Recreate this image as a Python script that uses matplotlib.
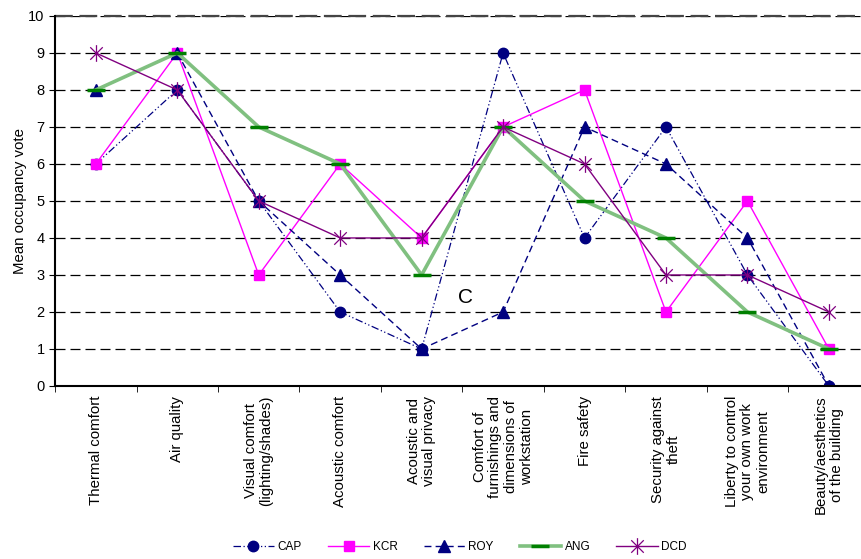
import matplotlib
matplotlib.use("Agg")
import matplotlib.pyplot as plt
from matplotlib.path import Path

plt.rcParams['font.family'] = ['Liberation Sans', 'DejaVu Sans']

categories = ["Thermal comfort", "Air quality", "Visual comfort\n(lighting/shades)",
              "Acoustic comfort", "Acoustic and\nvisual privacy",
              "Comfort of\nfurnishings and\ndimensions of\nworkstation",
              "Fire safety", "Security against\ntheft",
              "Liberty to control\nyour own work\nenvironment",
              "Beauty/aesthetics\nof the building"]
cap = [6, 8, 5, 2, 1, 9, 4, 7, 3, 0]
kcr = [6, 9, 3, 6, 4, 7, 8, 2, 5, 1]
roy = [8, 9, 5, 3, 1, 2, 7, 6, 4, 0]
ang = [8, 9, 7, 6, 3, 7, 5, 4, 2, 1]
dcd = [9, 8, 5, 4, 4, 7, 6, 3, 3, 2]

# Excel-style star marker: vertical bar plus an X
star = Path([(0, -1), (0, 1), (-0.75, -0.75), (0.75, 0.75), (-0.75, 0.75), (0.75, -0.75)],
            [Path.MOVETO, Path.LINETO, Path.MOVETO, Path.LINETO, Path.MOVETO, Path.LINETO])

fig = plt.figure(figsize=(8.61, 5.59), dpi=100)
ax = fig.add_axes([0.064, 0.3095, 0.946, 0.662])

x = range(len(categories))
navy = '#000080'
ax.plot(x, cap, color=navy, linestyle=(0, (6, 2, 1, 2, 1, 2)), linewidth=0.9,
        marker='o', markersize=7.5, markerfacecolor=navy, label='CAP')
ax.plot(x, kcr, color='#ff00ff', linewidth=1.0, marker='s', markersize=7.5,
        markerfacecolor='#ff00ff', markeredgecolor='#ff00ff', label='KCR')
ax.plot(x, roy, color=navy, linestyle=(0, (5, 3)), linewidth=1.0,
        marker='^', markersize=8, label='ROY')
ax.plot(x, ang, color='#80c080', linewidth=2.6, marker='_', markersize=13,
        markeredgewidth=2.5, markeredgecolor='#008000', label='ANG')
ax.plot(x, dcd, color='#800080', linewidth=1.0, marker=star, markersize=12,
        markeredgewidth=0.9, markeredgecolor='#800080', label='DCD')

ax.text(4.54, 2.4, "C", fontsize=15, ha='center', va='center')

ax.set_xlim(-0.5, len(categories) - 0.5)
ax.set_ylim(0, 10)
ax.set_yticks(range(0, 11))
ax.yaxis.grid(True, color='black', linestyle=(0, (8, 4)), linewidth=0.9)
ax.axhline(10, color='#444444', linestyle=(0, (8, 3)), linewidth=1.6, clip_on=False)
ax.set_axisbelow(True)

ax.set_xticks(list(x))
ax.set_xticklabels(categories, rotation=90, ha='center', va='top',
                   multialignment='center', linespacing=1.15)
ax.set_xticks([i - 0.5 for i in range(len(categories) + 1)], minor=True)
ax.tick_params(axis='x', which='major', length=0, pad=7, labelsize=10.8)
ax.tick_params(axis='x', which='minor', length=4, direction='out')
ax.tick_params(axis='y', length=4, direction='out', labelsize=10.5)

ax.spines['right'].set_visible(False)
ax.spines['top'].set_visible(False)
ax.spines['left'].set_linewidth(1.5)
ax.spines['bottom'].set_linewidth(1.5)

ax.set_ylabel("Mean occupancy vote", fontsize=10.8, labelpad=1)

fig.legend(loc='center', bbox_to_anchor=(0.534, 0.022), ncol=5, frameon=False,
           fontsize=8.5, handlelength=3.5, columnspacing=2.2, handletextpad=0.3)

fig.savefig("out.png", dpi=100)
